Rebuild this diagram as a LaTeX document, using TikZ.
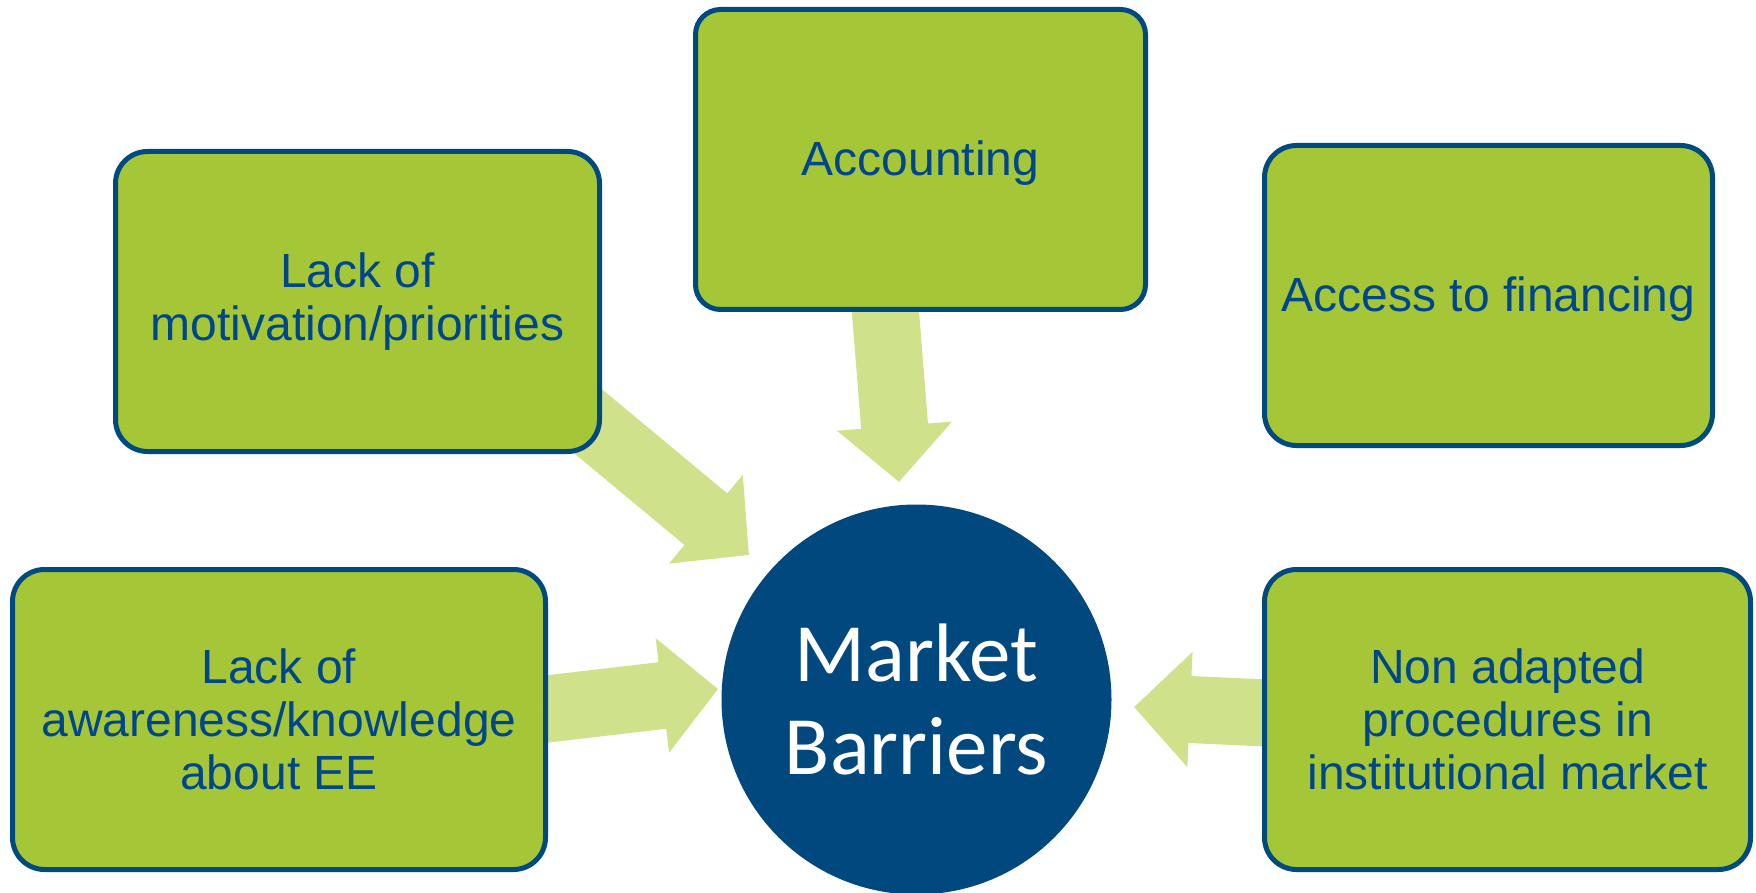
\documentclass[tikz,border=0pt]{standalone}
\usepackage{fontspec}
\setmainfont{Liberation Sans}
\newfontfamily\hubfont{Carlito}
\usetikzlibrary{arrows.meta,backgrounds}
\definecolor{boxgreen}{HTML}{A5C737}
\definecolor{boxedge}{HTML}{004A80}
\definecolor{boxtext}{HTML}{00468C}
\definecolor{flowgreen}{HTML}{CFE18B}
\definecolor{hubblue}{HTML}{01487F}
\begin{document}
\begin{tikzpicture}[x=1pt,y=-1pt,
  barrier/.style={draw=boxedge, line width=5pt, fill=boxgreen, rounded corners=32pt,
    text=boxtext, align=center, inner sep=0pt,
    font=\fontsize{48}{53}\selectfont,
    execute at begin node={\rule{0pt}{42pt}}},
  hub/.style={circle, fill=hubblue, text=white, inner sep=0pt, minimum size=390pt,
    align=center, font=\hubfont\fontsize{83}{93}\selectfont},
  flow/.style={draw=flowgreen, line width=67pt, line cap=butt,
    -{Triangle[length=56pt,width=112pt]}}]
\useasboundingbox (0,0) rectangle (1756,893);

% central hub
\node[hub] (hub) at (916.5,699.5) {Market\\Barriers};

% barrier boxes
\node[barrier, rounded corners=25pt, minimum width=450pt, minimum height=300pt]
  (acc) at (920.5,159.5) {Accounting};
\node[barrier, minimum width=484pt, minimum height=300pt]
  (mot) at (357.5,301.5) {Lack of\\motivation/priorities};
\node[barrier, minimum width=448pt, minimum height=300pt]
  (fin) at (1488.5,295.5) {Access to financing};
\node[barrier, minimum width=533pt, minimum height=300pt]
  (aware) at (279,719.5) {Lack of\\awareness/knowledge\\about EE};
\node[barrier, minimum width=486pt, minimum height=300pt]
  (nonad) at (1507.5,719.5) {Non adapted\\procedures in\\institutional market};

% arrow tips just short of the hub
\coordinate (tmot) at (749,555);
\coordinate (tacc) at (899,482);
\coordinate (taware) at (718,689);
\coordinate (tnonad) at (1134,707);

\begin{scope}[on background layer]
  \fill[white] (0,0) rectangle (1756,893);
  \draw[flow] ([shift={(161,62)}]mot.center) -- (tmot);
  \draw[flow] ([shift={(-37.5,121.5)}]acc.center) -- (tacc);
  \draw[flow] ([shift={(220.5,-5)}]aware.center) -- (taware);
  \draw[flow] ([shift={(-207.5,-5)}]nonad.center) -- (tnonad);
\end{scope}
\end{tikzpicture}
\end{document}
